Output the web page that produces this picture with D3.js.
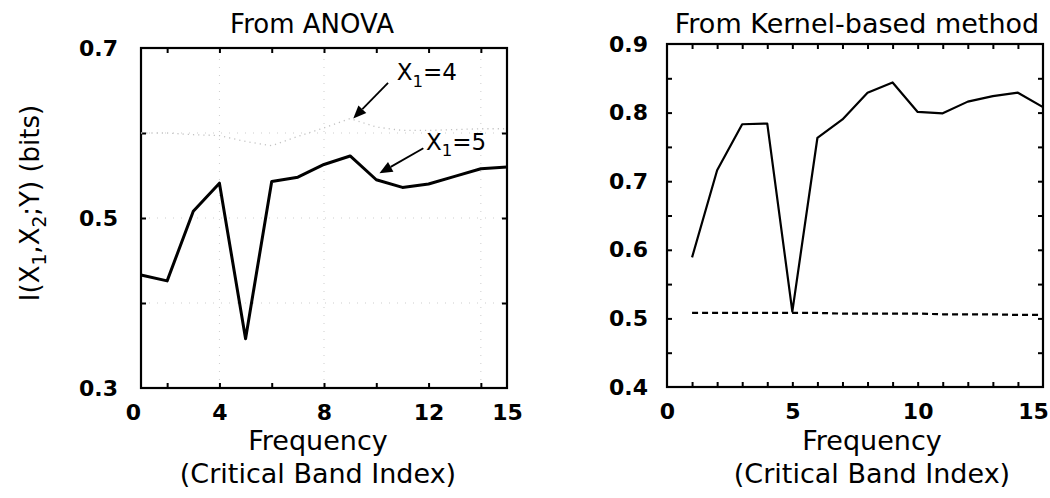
<!DOCTYPE html>
<html>
<head>
<meta charset="utf-8">
<script src="https://cdn.jsdelivr.net/npm/d3@7"></script>
<style>
  html, body { margin: 0; padding: 0; background: #fff; }
  svg { display: block; }
  text { font-family: "DejaVu Sans", Verdana, sans-serif; fill: #000; }
</style>
</head>
<body>
<svg id="fig" width="1050" height="498"></svg>
<script>
// Critical band index (frequency) for both panels
const bandIndex = [1, 2, 3, 4, 5, 6, 7, 8, 9, 10, 11, 12, 13, 14, 15];

// Left panel: mutual information from ANOVA
const anovaX1eq5 = [0.433, 0.426, 0.508, 0.541, 0.358, 0.543, 0.548, 0.563, 0.573, 0.545, 0.536, 0.540, 0.549, 0.558, 0.560];
const anovaX1eq4 = [0.600, 0.600, 0.598, 0.597, 0.590, 0.585, 0.596, 0.606, 0.617, 0.607, 0.603, 0.603, 0.604, 0.605, 0.605];

// Right panel: mutual information from kernel-based estimate, plus reference level
const kernelMI = [0.589, 0.716, 0.783, 0.784, 0.510, 0.763, 0.790, 0.829, 0.844, 0.801, 0.799, 0.816, 0.824, 0.829, 0.808];
const kernelRef = [0.508, 0.508, 0.508, 0.508, 0.508, 0.508, 0.507, 0.507, 0.507, 0.507, 0.506, 0.506, 0.506, 0.505, 0.505];

// Axis ticks and labels
const leftXTickMarks = [2, 4, 6, 8, 10, 12, 14];
const leftXLabelVals = [1, 4, 8, 12, 15];
const leftXLabelText = ["0", "4", "8", "12", "15"];
const leftYTickMarks = [0.4, 0.5, 0.6];
const leftYLabelVals = [0.3, 0.5, 0.7];
const rightXTickMarks = [1, 2, 3, 4, 5, 6, 7, 8, 9, 10, 11, 12, 13, 14];
const rightXLabelVals = [0, 5, 10, 15];
const rightYTickMarks = [0.45, 0.5, 0.55, 0.6, 0.65, 0.7, 0.75, 0.8, 0.85];
const rightYLabelVals = [0.4, 0.5, 0.6, 0.7, 0.8, 0.9];

const svg = d3.select("#fig");

function framedPanel(x, y, opts) {
  const g = svg.append("g");
  const [x0, x1] = x.range();
  const [y0, y1] = y.range();
  const tick = 5;

  // faint dotted grid
  if (opts.gridX) {
    g.append("g").selectAll("line").data(opts.gridX).join("line")
      .attr("x1", d => x(d)).attr("x2", d => x(d))
      .attr("y1", y0).attr("y2", y1)
      .attr("stroke", "#cdcdcd").attr("stroke-width", 1)
      .attr("stroke-dasharray", "1,7");
    g.append("g").selectAll("line").data(opts.gridY).join("line")
      .attr("x1", x0).attr("x2", x1)
      .attr("y1", d => y(d)).attr("y2", d => y(d))
      .attr("stroke", "#cdcdcd").attr("stroke-width", 1)
      .attr("stroke-dasharray", "1,7");
  }

  // inward tick marks on all four sides
  const marks = [
    [d3.axisBottom(x).tickValues(opts.xTicks), `translate(0,${y0})`],
    [d3.axisTop(x).tickValues(opts.xTicks), `translate(0,${y1})`],
    [d3.axisLeft(y).tickValues(opts.yTicks), `translate(${x0},0)`],
    [d3.axisRight(y).tickValues(opts.yTicks), `translate(${x1},0)`]
  ];
  marks.forEach(([ax, tr]) => {
    const a = g.append("g").attr("transform", tr)
      .call(ax.tickSize(-tick).tickFormat(""));
    a.select(".domain").remove();
    a.selectAll("line").attr("stroke", "#000").attr("stroke-width", 2);
  });

  // tick labels
  const xl = g.append("g").attr("transform", `translate(0,${y0})`)
    .call(d3.axisBottom(x).tickValues(opts.xLabelVals).tickSize(0).tickPadding(16)
      .tickFormat(opts.xLabelFormat));
  xl.select(".domain").remove();
  xl.selectAll("text").attr("font-size", 22).attr("font-weight", "bold")
    .attr("font-family", "DejaVu Sans, sans-serif").attr("fill", "#000");

  const yl = g.append("g").attr("transform", `translate(${x0},0)`)
    .call(d3.axisLeft(y).tickValues(opts.yLabelVals).tickSize(0).tickPadding(opts.yPad)
      .tickFormat(d3.format(".1f")));
  yl.select(".domain").remove();
  yl.selectAll("text").attr("font-size", 22).attr("font-weight", "bold")
    .attr("font-family", "DejaVu Sans, sans-serif").attr("fill", "#000");

  // frame
  g.append("rect")
    .attr("x", x0).attr("y", y1)
    .attr("width", x1 - x0).attr("height", y0 - y1)
    .attr("fill", "none").attr("stroke", "#000").attr("stroke-width", 2.2);

  return { g, xl, yl };
}

function xLabels(cx) {
  svg.append("text").attr("x", cx).attr("y", 450)
    .attr("text-anchor", "middle").attr("font-size", 27).text("Frequency");
  svg.append("text").attr("x", cx).attr("y", 483)
    .attr("text-anchor", "middle").attr("font-size", 27).text("(Critical Band Index)");
}

function subLabel(parent, x, y, size, parts) {
  const t = parent.append("text").attr("x", x).attr("y", y).attr("font-size", size);
  parts.forEach(p => {
    if (p.sub) {
      t.append("tspan").attr("font-size", size * 0.72).attr("dy", size * 0.28).text(p.t);
    } else {
      const s = t.append("tspan").text(p.t);
      if (p.up) s.attr("dy", -size * 0.28);
    }
  });
  return t;
}

function arrow(x1, y1, x2, y2, color) {
  const ang = Math.atan2(y2 - y1, x2 - x1);
  const L = 13, W = 5.5;
  const bx = x2 - L * Math.cos(ang), by = y2 - L * Math.sin(ang);
  svg.append("line").attr("x1", x1).attr("y1", y1).attr("x2", bx).attr("y2", by)
    .attr("stroke", color).attr("stroke-width", 1.8);
  const px = -Math.sin(ang) * W, py = Math.cos(ang) * W;
  svg.append("path")
    .attr("d", `M${x2},${y2}L${bx + px},${by + py}L${bx - px},${by - py}Z`)
    .attr("fill", color);
}

// ---------- Left panel: ANOVA ----------
const xL = d3.scaleLinear().domain([1, 15]).range([141, 507]);
const yL = d3.scaleLinear().domain([0.3, 0.7]).range([388, 48]);

const left = framedPanel(xL, yL, {
  xTicks: leftXTickMarks, yTicks: leftYTickMarks,
  xLabelVals: leftXLabelVals,
  xLabelFormat: (d, i) => leftXLabelText[i],
  yLabelVals: leftYLabelVals, yPad: 23,
  gridX: [4, 8, 14], gridY: [0.4, 0.5, 0.6]
});
// first frequency label sits just left of the frame corner
left.xl.selectAll("text").filter((d, i) => i === 0).attr("dx", -8);

const lineL = (vals) => d3.line().x((d, i) => xL(bandIndex[i])).y(d => yL(d))(vals);

svg.append("path").attr("d", lineL(anovaX1eq4))
  .attr("fill", "none").attr("stroke", "#c2c2c2").attr("stroke-width", 1.3)
  .attr("stroke-dasharray", "1.2,4");
svg.append("path").attr("d", lineL(anovaX1eq5))
  .attr("fill", "none").attr("stroke", "#000").attr("stroke-width", 3)
  .attr("stroke-linejoin", "round");

svg.append("text").attr("x", 312).attr("y", 33).attr("text-anchor", "middle")
  .attr("font-size", 26).text("From ANOVA");
xLabels(318);

// y-axis title
const yTitle = svg.append("g").attr("transform", "translate(39,203) rotate(-90)");
subLabel(yTitle, 0, 0, 26, [
  { t: "I(X" }, { t: "1", sub: true }, { t: ",X", up: true }, { t: "2", sub: true },
  { t: ";Y) (bits)", up: true }
]).attr("text-anchor", "middle");

// curve annotations
arrow(xL(10.45), yL(0.659), xL(9.12), yL(0.617), "#000");
subLabel(svg, xL(10.78), yL(0.662), 23, [{ t: "X" }, { t: "1", sub: true }, { t: "=4", up: true }]);
arrow(xL(11.8), yL(0.582), xL(10.12), yL(0.5526), "#000");
subLabel(svg, xL(11.9), yL(0.580), 23, [{ t: "X" }, { t: "1", sub: true }, { t: "=5", up: true }]);

// ---------- Right panel: kernel-based ----------
const xR = d3.scaleLinear().domain([0, 15]).range([667, 1043]);
const yR = d3.scaleLinear().domain([0.4, 0.9]).range([387, 44]);

const right = framedPanel(xR, yR, {
  xTicks: rightXTickMarks, yTicks: rightYTickMarks,
  xLabelVals: rightXLabelVals,
  xLabelFormat: d3.format("d"),
  yLabelVals: rightYLabelVals, yPad: 19
});
// keep the last frequency label inside the figure
right.xl.selectAll("text").filter(d => d === 15).attr("dx", -10);

const lineR = (vals) => d3.line().x((d, i) => xR(bandIndex[i])).y(d => yR(d))(vals);

svg.append("path").attr("d", lineR(kernelRef))
  .attr("fill", "none").attr("stroke", "#000").attr("stroke-width", 2.2)
  .attr("stroke-dasharray", "6,4");
svg.append("path").attr("d", lineR(kernelMI))
  .attr("fill", "none").attr("stroke", "#000").attr("stroke-width", 2.2)
  .attr("stroke-linejoin", "round");

svg.append("text").attr("x", 857).attr("y", 33).attr("text-anchor", "middle")
  .attr("font-size", 27).text("From Kernel-based method");
xLabels(872);
</script>
</body>
</html>
